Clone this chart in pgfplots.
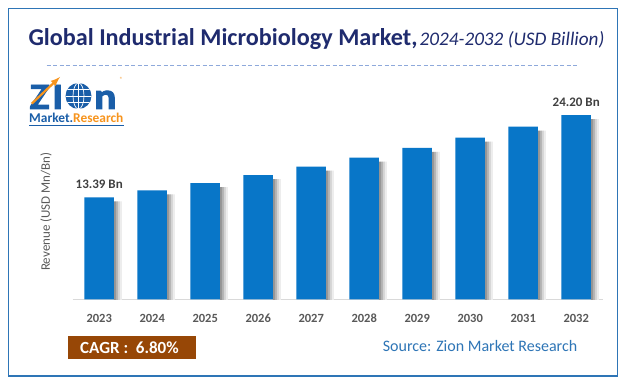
\documentclass[border=0pt]{standalone}
\usepackage{pgfplots}
\pgfplotsset{compat=1.18}
\usepackage{fontspec}
\setmainfont{Carlito}
\newfontfamily\logofont[FakeBold=2.5]{Carlito}
\definecolor{barblue}{RGB}{8,118,200}
\definecolor{framebl}{RGB}{46,117,182}
\definecolor{titlenavy}{RGB}{31,43,110}
\definecolor{dashbl}{RGB}{142,169,219}
\definecolor{tickgray}{RGB}{89,89,89}
\definecolor{labgray}{RGB}{64,64,64}
\definecolor{cagrbrown}{RGB}{151,71,6}
\definecolor{logoblue}{RGB}{26,94,168}
\definecolor{logoorange}{RGB}{247,148,29}
\pgfplotstableread{
x y
0 13.39
1 14.30
2 15.27
3 16.31
4 17.42
5 18.60
6 19.87
7 21.22
8 22.66
9 24.20
}\revtable
\begin{document}
\begin{tikzpicture}[x=1pt,y=1pt]
\useasboundingbox (0,0) rectangle (625,385);
\fill[white] (0,0) rectangle (625,385);
\draw[framebl, line width=1.5pt] (8.3,376.7) rectangle (617.7,9);
% title
\node[anchor=base west, inner sep=0pt, text=titlenavy] at (28.3,339)
  {{\fontsize{24.2}{28}\selectfont\bfseries Global Industrial Microbiology Market,}\ {\fontsize{19.2}{22}\selectfont\itshape 2024-2032 (USD Billion)}};
\draw[dashbl, line width=1pt, dash pattern=on 4pt off 2.5pt] (46.7,319.3) -- (576.7,319.3);
% logo
\node[anchor=base west, inner sep=0pt, text=logoblue] at (29.5,276)
  {\scalebox{1.12}[1]{\logofont\bfseries\fontsize{37}{39}\selectfont Z}};
\node[anchor=base west, inner sep=0pt, text=logoblue] at (52,276)
  {\scalebox{1.12}[1]{\logofont\bfseries\fontsize{37}{39}\selectfont I}};
\fill[logoblue] (78.5,289) circle (13);
\begin{scope}
\clip (78.5,289) circle (13);
\draw[white, line width=0.7pt] (78.5,289) ellipse (5.5 and 13);
\draw[white, line width=0.7pt] (78.5,276) -- (78.5,302);
\draw[white, line width=0.7pt] (65.5,289) -- (91.5,289);
\draw[white, line width=0.7pt] (65.5,295.5) -- (91.5,295.5);
\draw[white, line width=0.7pt] (65.5,282.5) -- (91.5,282.5);
\end{scope}
\node[anchor=base west, inner sep=0pt, text=logoblue] at (94,276)
  {\scalebox{1.12}[1]{\logofont\bfseries\fontsize{37}{39}\selectfont n}};
\node[anchor=center, inner sep=0pt, text=logoorange] at (121.5,306)
  {\fontsize{6}{7}\selectfont ®};
\draw[logoorange, line width=2.2pt, -latex] (31.7,281.3) -- (60,308);
\node[anchor=base west, inner sep=0pt] at (29,262)
  {\fontsize{13.4}{15}\selectfont\bfseries\textcolor{logoblue}{Market.}\textcolor{logoorange}{Research}};
\draw[logoblue, line width=0.6pt] (29,260) -- (124,260);
% y label
\node[rotate=90, text=tickgray, inner sep=0pt] at (46,173.3)
  {\fontsize{13}{15}\selectfont Revenue (USD Mn/Bn)};
% axis
\begin{axis}[
  at={(72.7pt,85.7pt)}, anchor=south west,
  scale only axis, width=530pt, height=198pt,
  xmin=-0.5, xmax=9.5, ymin=0, ymax=26,
  axis x line*=bottom, axis y line=none,
  x axis line style={draw=black!15, line width=1pt},
  xtick={0,1,2,3,4,5,6,7,8,9},
  xticklabels={2023,2024,2025,2026,2027,2028,2029,2030,2031,2032},
  xtick style={draw=none},
  xticklabel style={anchor=base, yshift=-19pt, text=tickgray, font=\fontsize{12.5}{14}\selectfont\bfseries},
  ytick=\empty,
  ybar,
]
\addplot[draw=none, fill=black!42, bar width=2pt, bar shift=15.75pt, yshift=-4pt] table[x=x,y=y] {\revtable};
\addplot[draw=none, fill=black!30, bar width=2pt, bar shift=17.75pt, yshift=-4pt] table[x=x,y=y] {\revtable};
\addplot[draw=none, fill=black!17, bar width=2pt, bar shift=19.75pt, yshift=-4pt] table[x=x,y=y] {\revtable};
\addplot[draw=none, fill=black!7, bar width=2pt, bar shift=21.75pt, yshift=-4pt] table[x=x,y=y] {\revtable};
\addplot[draw=none, fill=barblue, bar width=29.5pt, bar shift=0pt,
  point meta=explicit symbolic, nodes near coords,
  every node near coord/.append style={anchor=base, yshift=8.5pt, inner sep=0pt, text=labgray, font=\fontsize{13}{15}\selectfont\bfseries}]
  coordinates {(0,13.39)[13.39 Bn] (1,14.30)[] (2,15.27)[] (3,16.31)[] (4,17.42)[] (5,18.60)[] (6,19.87)[] (7,21.22)[] (8,22.66)[] (9,24.20)[24.20 Bn]};
\end{axis}
% CAGR box
\fill[cagrbrown] (68,49) rectangle (196,26);
\node[anchor=base west, inner sep=0pt, text=white] at (80,31)
  {\fontsize{17}{19}\selectfont\bfseries CAGR :\ \ 6.80\%};
% source
\node[anchor=base west, inner sep=0pt, text=framebl] at (382.7,33.3)
  {\fontsize{16}{18}\selectfont Source: Zion Market Research};
\end{tikzpicture}
\end{document}
